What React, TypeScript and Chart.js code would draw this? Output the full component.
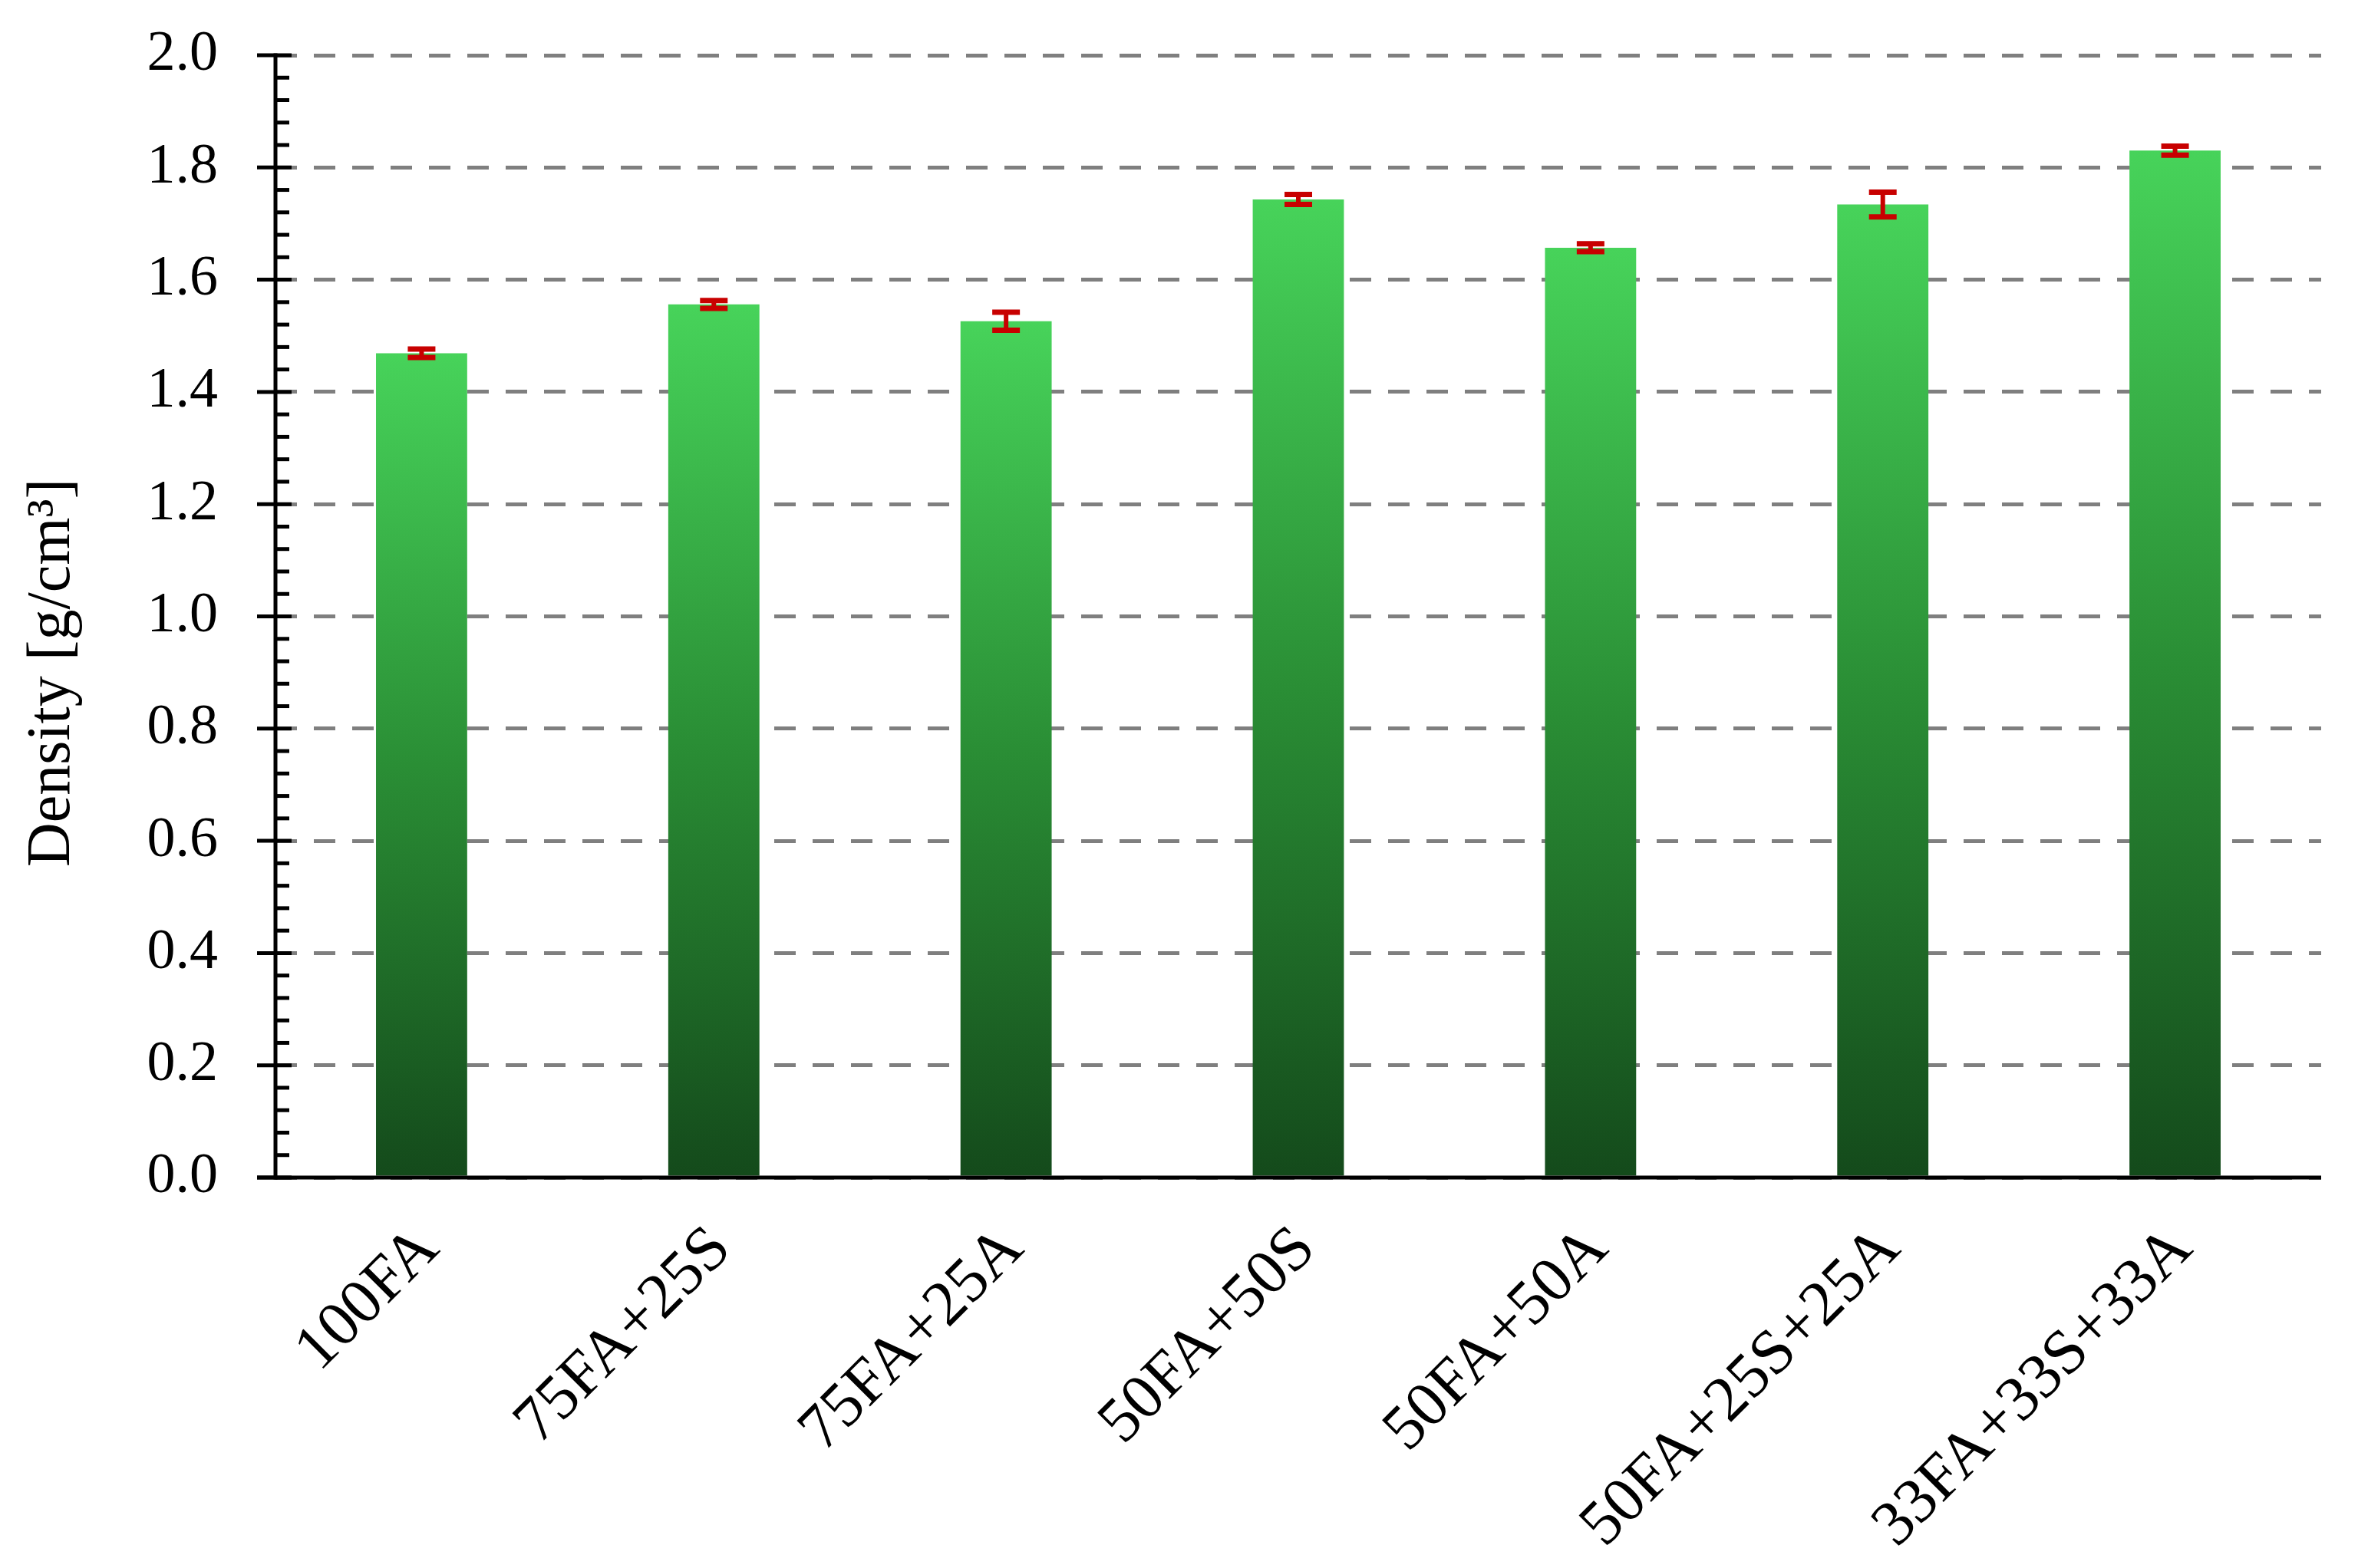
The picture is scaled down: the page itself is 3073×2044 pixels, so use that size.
import React, { useEffect, useRef } from "react";
import { Chart, registerables } from "chart.js";

Chart.register(...registerables);

const categories = ["100FA", "75FA+25S", "75FA+25A", "50FA+50S", "50FA+50A", "50FA+25S+25A", "33FA+33S+33A"];
const density = [1.469, 1.556, 1.526, 1.743, 1.657, 1.734, 1.830];
const densityError = [0.0075, 0.007, 0.016, 0.009, 0.007, 0.022, 0.008];
const yTickValues = [0, 0.2, 0.4, 0.6, 0.8, 1.0, 1.2, 1.4, 1.6, 1.8, 2.0];
const yTitle = "Density [g/cm³]";

const W = 3073;
const H = 2044;
const FONT = '"Liberation Serif", "Times New Roman", serif';

export default function App() {
  const ref = useRef<HTMLCanvasElement | null>(null);

  useEffect(() => {
    const canvas = ref.current;
    if (!canvas) return;

    const customPlugin = {
      id: "custom",
      afterDatasetsDraw(chart: any) {
        const { ctx, scales, chartArea } = chart;
        const x = scales.x;
        const y = scales.y;
        ctx.save();
        // error bars
        ctx.strokeStyle = "#C80000";
        ctx.lineCap = "butt";
        density.forEach((v, i) => {
          const cx = x.getPixelForValue(i);
          const top = y.getPixelForValue(v + densityError[i]);
          const bot = y.getPixelForValue(v - densityError[i]);
          ctx.lineWidth = 6;
          ctx.beginPath();
          ctx.moveTo(cx, top);
          ctx.lineTo(cx, bot);
          ctx.stroke();
          ctx.lineWidth = 7;
          ctx.beginPath();
          ctx.moveTo(cx - 18, top);
          ctx.lineTo(cx + 18, top);
          ctx.moveTo(cx - 18, bot);
          ctx.lineTo(cx + 18, bot);
          ctx.stroke();
        });
        // axes
        ctx.strokeStyle = "#000";
        ctx.lineWidth = 5;
        const left = chartArea.left;
        const bottom = chartArea.bottom;
        ctx.beginPath();
        ctx.moveTo(left, y.getPixelForValue(2.0) - 2.5);
        ctx.lineTo(left, bottom + 2.5);
        ctx.stroke();
        ctx.beginPath();
        ctx.moveTo(left - 24, bottom);
        ctx.lineTo(chartArea.right, bottom);
        ctx.stroke();
        // major ticks
        yTickValues.forEach((v) => {
          const py = y.getPixelForValue(v);
          ctx.beginPath();
          ctx.moveTo(left - 24, py);
          ctx.lineTo(left + 21, py);
          ctx.stroke();
        });
        // minor ticks
        for (let k = 0; k < yTickValues.length - 1; k++) {
          for (let m = 1; m <= 4; m++) {
            const v = yTickValues[k] + (m * (yTickValues[k + 1] - yTickValues[k])) / 5;
            const py = y.getPixelForValue(v);
            ctx.beginPath();
            ctx.moveTo(left, py);
            ctx.lineTo(left + 18, py);
            ctx.stroke();
          }
        }
        // y title
        ctx.fillStyle = "#000";
        ctx.font = `80px ${FONT}`;
        ctx.textAlign = "center";
        ctx.textBaseline = "alphabetic";
        ctx.translate(90, 877);
        ctx.rotate(-Math.PI / 2);
        ctx.fillText(yTitle, 0, 0);
        ctx.restore();
      },
    };

    const chart = new Chart(canvas, {
      type: "bar",
      data: {
        labels: categories,
        datasets: [
          {
            data: density,
            barPercentage: 0.312,
            categoryPercentage: 1,
            borderWidth: 0,
            backgroundColor: (c: any) => {
              const ch = c.chart;
              if (!ch.chartArea || c.type !== "data" || !ch.scales.y) return "#2e9a3a";
              const v = density[c.dataIndex];
              const yTop = ch.scales.y.getPixelForValue(v);
              const yBot = ch.scales.y.getPixelForValue(0);
              const g = ch.ctx.createLinearGradient(0, yTop, 0, yBot);
              g.addColorStop(0, "#47D35A");
              g.addColorStop(0.5, "#2A8E35");
              g.addColorStop(1, "#144A1B");
              return g;
            },
          },
        ],
      },
      options: {
        responsive: false,
        animation: false,
        devicePixelRatio: 1,
        layout: { padding: { top: 72, right: 48, left: 0, bottom: 0 } },
        plugins: {
          legend: { display: false },
          tooltip: { enabled: false },
          title: { display: false },
        },
        scales: {
          x: {
            grid: { display: false, drawTicks: false },
            border: { display: false },
            ticks: {
              autoSkip: false,
              minRotation: 45,
              maxRotation: 45,
              padding: 45,
              labelOffset: 10,
              color: "#000",
              font: { family: FONT, size: 83 },
            },
            afterFit: (s: any) => {
              s.height = 509;
            },
          },
          y: {
            min: 0,
            max: 2,
            grid: { color: "#7f7f7f", lineWidth: 5, drawTicks: false },
            border: { display: false, dash: [28, 22] },
            ticks: {
              stepSize: 0.2,
              padding: 75,
              color: "#000",
              font: { family: FONT, size: 74 },
              callback: (v: any) => Number(v).toFixed(1),
            },
            afterFit: (s: any) => {
              s.width = 359;
              s.paddingTop = 0;
              s.paddingBottom = 0;
            },
          },
        },
      },
      plugins: [customPlugin],
    });

    return () => chart.destroy();
  }, []);

  return (
    <div style={{ position: "absolute", left: 0, top: 0, width: W, height: H, background: "#fff" }}>
      <canvas ref={ref} width={W} height={H} style={{ width: W, height: H, display: "block" }} />
    </div>
  );
}
